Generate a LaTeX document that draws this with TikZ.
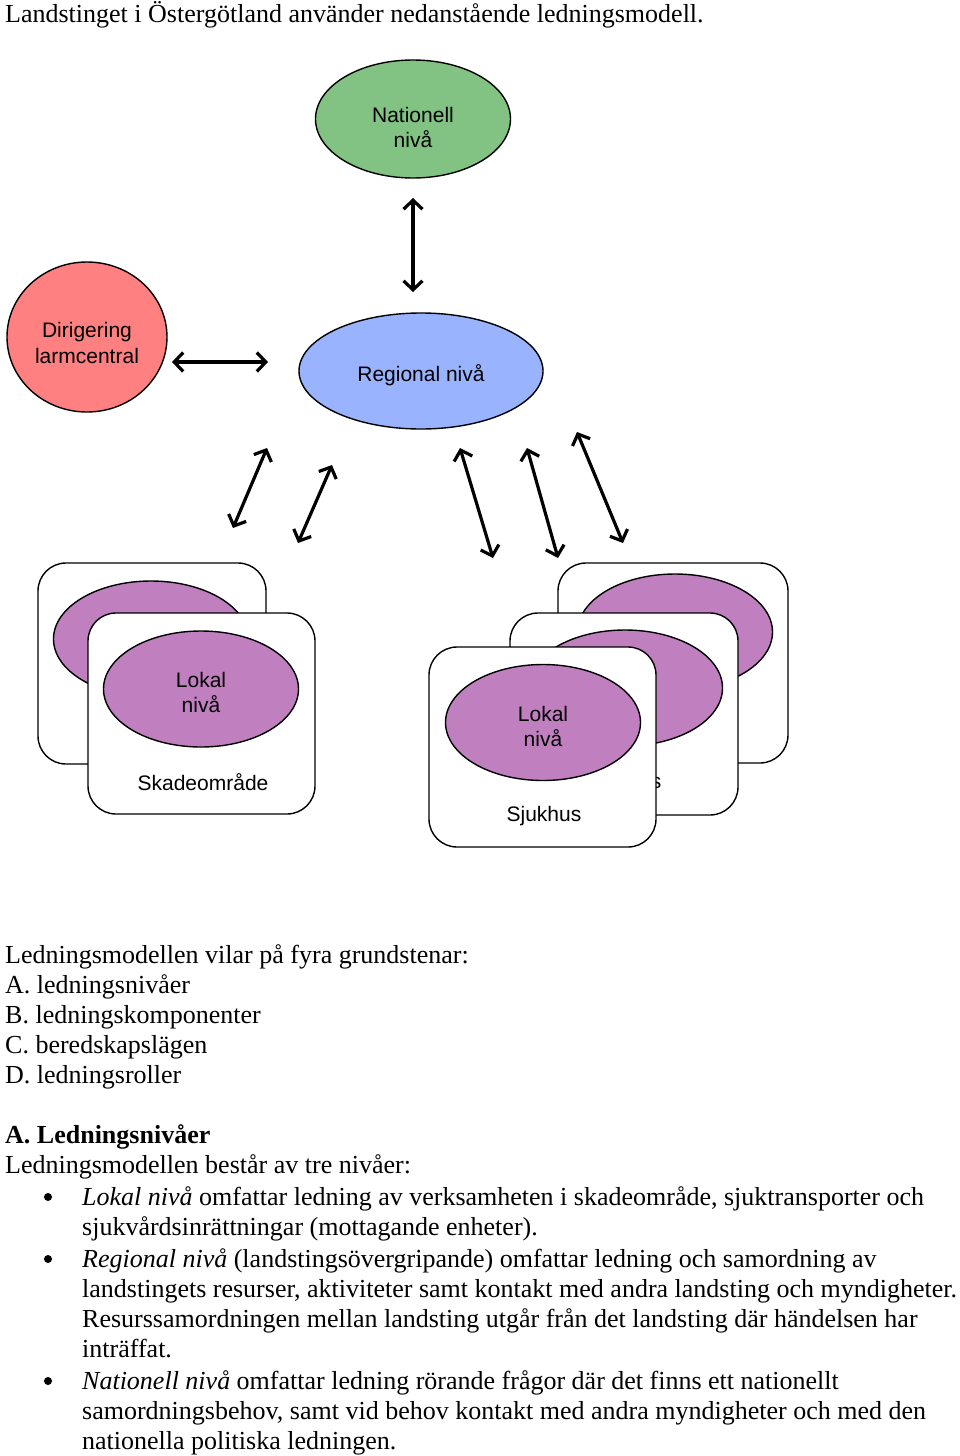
\documentclass[tikz,border=0pt]{standalone}
\usepackage{fontspec}
\setmainfont{Liberation Serif}
\newfontfamily\arialf{Liberation Sans}
\usetikzlibrary{arrows.meta,shapes.geometric}
\definecolor{natgreen}{RGB}{130,194,130}
\definecolor{dirred}{RGB}{255,128,128}
\definecolor{regblue}{RGB}{153,179,255}
\definecolor{lokpurple}{RGB}{192,128,192}
\begin{document}
\begin{tikzpicture}[x=1pt,y=-1pt,
  body/.style={anchor=base west, inner sep=0pt, font=\fontsize{26}{30}\selectfont},
  bul/.style={circle, fill=black, inner sep=0pt, minimum size=8pt},
  lbl/.style={font=\arialf\fontsize{21}{24}\selectfont, inner sep=0pt, align=center},
  card/.style={draw, line width=1.4pt, fill=white, rounded corners=28pt, inner sep=0pt},
  oval/.style={ellipse, draw, line width=1.4pt, inner sep=0pt},
  lokal/.style={oval, fill=lokpurple, minimum width=195pt, minimum height=116pt},
  dbl/.style={{Straight Barb[length=9pt,width=19pt]}-{Straight Barb[length=9pt,width=19pt]}, line width=3.2pt}
]
\useasboundingbox (0,0) rectangle (960,1456);

% top text
\node[body] (t0) at (5,23) {Landstinget i Östergötland använder nedanstående ledningsmodell.};

% main ovals
\node[oval, fill=natgreen, minimum width=195pt, minimum height=118pt] (nat) at (413,119) {};
\node[lbl] (natt) at (413,115) {Nationell};
\node[lbl] (natn) at (413,139) {nivå};

\node[oval, fill=dirred, minimum width=160pt, minimum height=150pt] (dir) at (87,337) {};
\node[lbl] (dirt) at (87,332) {Dirigering};
\node[lbl] (dirn) at (87,356) {larmcentral};

\node[oval, fill=regblue, minimum width=244pt, minimum height=116pt] (reg) at (421,371) {};
\node[lbl] (regt) at (421,375) {Regional nivå};

% arrows
\coordinate (v1) at (413,198); \coordinate (v2) at (413,292);
\draw[dbl] (v1) -- (v2);
\coordinate (h1) at (172,362); \coordinate (h2) at (268,362);
\draw[dbl] (h1) -- (h2);
\coordinate (a1s) at (267,448); \coordinate (a1e) at (233,528);
\draw[dbl] (a1s) -- (a1e);
\coordinate (a2s) at (332,465); \coordinate (a2e) at (298,543);
\draw[dbl] (a2s) -- (a2e);
\coordinate (a3s) at (460,448); \coordinate (a3e) at (493,558);
\draw[dbl] (a3s) -- (a3e);
\coordinate (a4s) at (527,448); \coordinate (a4e) at (558,558);
\draw[dbl] (a4s) -- (a4e);
\coordinate (a5s) at (577,432); \coordinate (a5e) at (623,543);
\draw[dbl] (a5s) -- (a5e);

% left group
\node[card, minimum width=228pt, minimum height=201pt] (lcb) at (152,663.5) {};
\node[lokal] (leb) at (151,639) {};
\node[lbl] (lebt) at (149,655) {Sjuktransport};
\node[card, minimum width=227pt, minimum height=201pt] (lcf) at (201.5,713.5) {};
\node[lokal] (lef) at (201,689) {};
\node[lbl] (left) at (201,680) {Lokal};
\node[lbl] (lefn) at (201,704) {nivå};
\node[lbl] (lcft) at (203,782) {Skadeområde};

% right group
\node[card, minimum width=230pt, minimum height=200pt] (rcb) at (673,663) {};
\node[lokal] (reb) at (675,632) {};
\node[lbl] (rebt) at (676,650) {Sjuktransport};
\node[card, minimum width=228pt, minimum height=202pt] (rcm) at (624,714) {};
\node[lokal] (rem) at (625,688) {};
\node[lbl] (rcmt) at (624,783) {Sjukhus};
\node[card, minimum width=227pt, minimum height=200pt] (rcf) at (542.5,747) {};
\node[lokal] (ref) at (543,722.5) {};
\node[lbl] (reft) at (543,714) {Lokal};
\node[lbl] (refn) at (543,738) {nivå};
\node[lbl] (rcft) at (544,816) {Sjukhus};

% lower text
\node[body] (b1) at (5,963) {Ledningsmodellen vilar på fyra grundstenar:};
\node[body] (b2) at (5,993) {A. ledningsnivåer};
\node[body] (b3) at (5,1023) {B. ledningskomponenter};
\node[body] (b4) at (5,1053) {C. beredskapslägen};
\node[body] (b5) at (5,1083) {D. ledningsroller};
\node[body] (b6) at (5,1143) {\textbf{A. Ledningsnivåer}};
\node[body] (b7) at (5,1173) {Ledningsmodellen består av tre nivåer:};
\node[bul] (u1) at (48,1197) {};
\node[body] (l1) at (82,1205) {\textit{Lokal nivå} omfattar ledning av verksamheten i skadeområde, sjuktransporter och};
\node[body] (l2) at (82,1235) {sjukvårdsinrättningar (mottagande enheter).};
\node[bul] (u2) at (48,1259) {};
\node[body] (l3) at (82,1267) {\textit{Regional nivå} (landstingsövergripande) omfattar ledning och samordning av};
\node[body] (l4) at (82,1297) {landstingets resurser, aktiviteter samt kontakt med andra landsting och myndigheter.};
\node[body] (l5) at (82,1327) {Resurssamordningen mellan landsting utgår från det landsting där händelsen har};
\node[body] (l6) at (82,1357) {inträffat.};
\node[bul] (u3) at (48,1381) {};
\node[body] (l7) at (82,1389) {\textit{Nationell nivå} omfattar ledning rörande frågor där det finns ett nationellt};
\node[body] (l8) at (82,1419) {samordningsbehov, samt vid behov kontakt med andra myndigheter och med den};
\node[body] (l9) at (82,1449) {nationella politiska ledningen.};
\end{tikzpicture}
\end{document}
